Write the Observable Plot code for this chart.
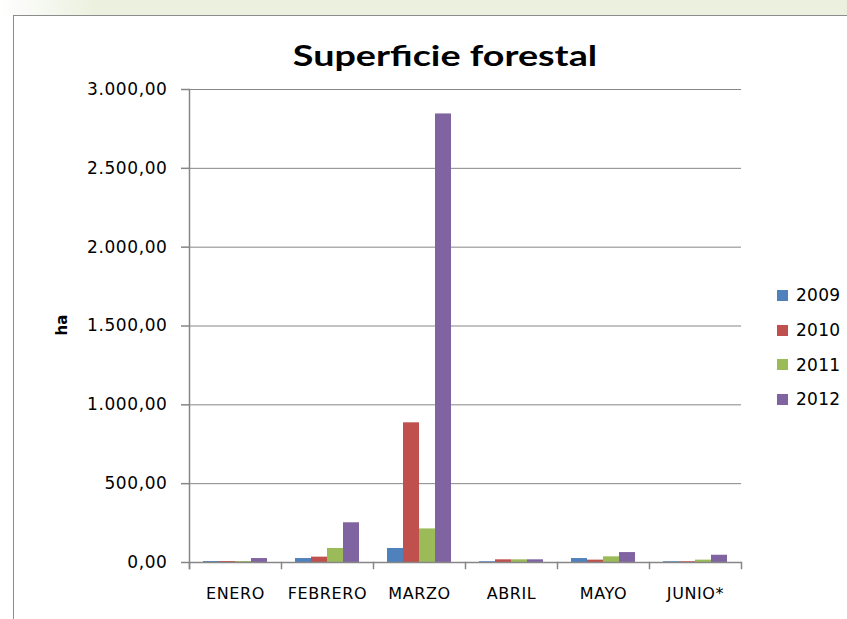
<!DOCTYPE html>
<html>
<head>
<meta charset="utf-8">
<script src="https://cdn.jsdelivr.net/npm/d3@7"></script>
<script src="https://cdn.jsdelivr.net/npm/@observablehq/plot@0.6"></script>
<style>
  html, body { margin: 0; padding: 0; width: 847px; height: 619px; overflow: hidden; background: #ffffff; }
  #topband { position: absolute; left: 0; top: 0; width: 847px; height: 15px;
    background: linear-gradient(to right, #ffffff 0px, #f4f7ee 50px, #ebf1de 95px, #ebf1de 100%); }
  #chartbox { position: absolute; left: 13px; top: 15px; width: 900px; height: 700px;
    border-left: 1px solid #8c8c8c; border-top: 1px solid #8c8c8c; background: #ffffff; }
  #title { position: absolute; left: 445px; top: 37px; transform: translateX(-50%) scaleX(1.3); white-space: nowrap;
    font-family: Lato, "Open Sans", sans-serif; font-weight: 700; font-size: 29px; color: #000; }
  #ylabel { position: absolute; left: 62px; top: 325px; transform: translate(-50%, -50%) rotate(-90deg);
    font-family: "DejaVu Sans", sans-serif; font-weight: 700; font-size: 15px; color: #000; }
  #chart { position: absolute; left: 0; top: 0; }
  #chart svg g[aria-label="y-axis tick label"] text { letter-spacing: 0.6px; }
  #chart svg g[aria-label="fx-axis tick label"] text { letter-spacing: 0.6px; }
  #legend { position: absolute; left: 777px; top: 278px; font-family: "DejaVu Sans", sans-serif;
    font-size: 17px; letter-spacing: 0.3px; color: #000; }
  .item { display: flex; align-items: center; height: 34.7px; }
  .sw { width: 11px; height: 11px; margin-right: 8px; }
</style>
</head>
<body>
<div id="topband"></div>
<div id="chartbox"></div>
<div id="title">Superficie forestal</div>
<div id="chart"></div>
<div id="ylabel">ha</div>
<div id="legend"></div>
<script>
// ---- data ----
const months = ["ENERO", "FEBRERO", "MARZO", "ABRIL", "MAYO", "JUNIO*"];
const years = ["2009", "2010", "2011", "2012"];
const v2009 = [6, 25, 89, 5, 25, 5];
const v2010 = [6, 34, 886, 17, 15, 5];
const v2011 = [6, 89, 213, 17, 36, 15];
const v2012 = [25, 252, 2845, 17, 63, 46];
const yTicks = [0, 500, 1000, 1500, 2000, 2500, 3000];
const colors = ["#4f81bd", "#c0504d", "#9bbb59", "#8064a2"];

const series = [v2009, v2010, v2011, v2012];
const table = [];
months.forEach((m, i) => {
  years.forEach((y, k) => table.push({month: m, year: y, value: series[k][i]}));
});

const esLocale = d3.formatLocale({decimal: ",", thousands: ".", grouping: [3], currency: ["", ""]});
const fmt = esLocale.format(",.2f");

const W = 847, H = 619;
const mTop = 89, mBottom = 57, mLeft = 187, mRight = 104;
const plotH = H - mTop - mBottom;
const axisGray = "#868686";

const chart = Plot.plot({
  width: W,
  height: H,
  marginTop: mTop,
  marginBottom: mBottom,
  marginLeft: mLeft,
  marginRight: mRight,
  style: {fontFamily: "DejaVu Sans, sans-serif", fontSize: "16px", color: "#000", background: "transparent", overflow: "visible"},
  fx: {domain: months, paddingInner: 0, paddingOuter: 0, label: null},
  x: {domain: years, paddingInner: 0, paddingOuter: 0.78, axis: null},
  y: {domain: [0, 3000], ticks: yTicks, label: null},
  color: {domain: years, range: colors},
  marks: [
    Plot.gridY(yTicks, {stroke: axisGray, strokeOpacity: 1, strokeWidth: 1}),
    Plot.barY(table, {fx: "month", x: "year", y: "value", fill: "year"}),
    Plot.ruleY([0], {stroke: axisGray, strokeWidth: 1.5}),
    Plot.frame({anchor: "left", facetAnchor: "left", stroke: axisGray, strokeWidth: 1.5, insetBottom: -6}),
    Plot.frame({anchor: "left", stroke: axisGray, strokeWidth: 1.5, insetTop: plotH, insetBottom: -6}),
    Plot.frame({anchor: "right", facetAnchor: "right", stroke: axisGray, strokeWidth: 1.5, insetTop: plotH, insetBottom: -6}),
    Plot.axisY(yTicks, {tickSize: 8, tickPadding: 14, stroke: axisGray, strokeWidth: 1.5, tickFormat: fmt, label: null, fontSize: 17}),
    Plot.axisFx({anchor: "bottom", tickSize: 0, tickPadding: 25, label: null, fontSize: 16})
  ]
});
document.getElementById("chart").appendChild(chart);

const legend = document.getElementById("legend");
years.forEach((y, k) => {
  const row = document.createElement("div");
  row.className = "item";
  const sw = document.createElement("span");
  sw.className = "sw";
  sw.style.background = colors[k];
  const t = document.createElement("span");
  t.textContent = y;
  row.appendChild(sw);
  row.appendChild(t);
  legend.appendChild(row);
});
</script>
</body>
</html>
